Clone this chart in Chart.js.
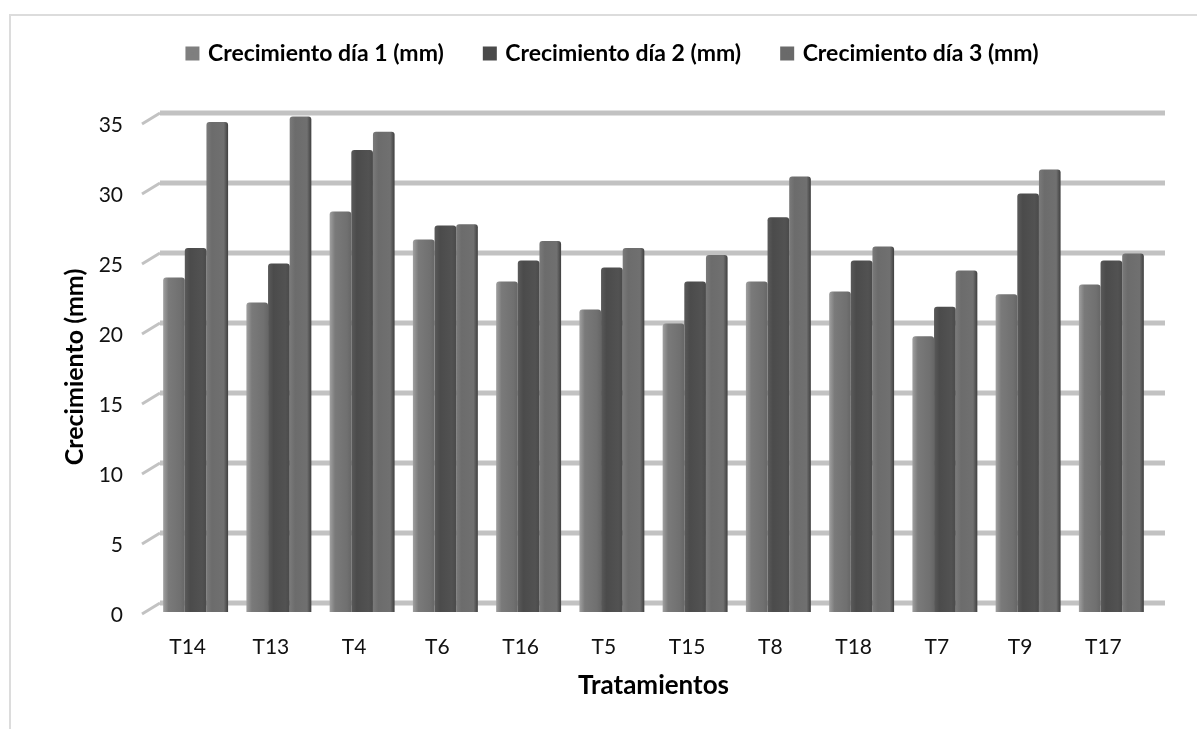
<!DOCTYPE html>
<html>
<head>
<meta charset="utf-8">
<script src="https://cdn.jsdelivr.net/npm/chart.js@4"></script>
<style>
  body { margin: 0; background: #fff; }
  #wrap { position: relative; width: 1197px; height: 729px; overflow: hidden; }
  #frame { position: absolute; left: 9px; top: 14px; width: 1188px; height: 715px;
           border-left: 2px solid #dcdcdc; border-top: 2px solid #dcdcdc; box-sizing: border-box; }
  canvas { position: absolute; left: 0; top: 0; filter: blur(0.6px); }
</style>
</head>
<body>
<div id="wrap">
  <div id="frame"></div>
  <canvas id="chart" width="1197" height="729"></canvas>
</div>
<script>
const categories = ['T14', 'T13', 'T4', 'T6', 'T16', 'T5', 'T15', 'T8', 'T18', 'T7', 'T9', 'T17'];
const dia1 = [23.9, 22.1, 28.6, 26.6, 23.6, 21.6, 20.6, 23.6, 22.9, 19.7, 22.7, 23.4];
const dia2 = [26.0, 24.9, 33.0, 27.6, 25.1, 24.6, 23.6, 28.2, 25.1, 21.8, 29.9, 25.1];
const dia3 = [35.0, 35.4, 34.3, 27.7, 26.5, 26.0, 25.5, 31.1, 26.1, 24.4, 31.6, 25.6];
const seriesNames = ['Crecimiento día 1 (mm)', 'Crecimiento día 2 (mm)', 'Crecimiento día 3 (mm)'];
const seriesValues = [dia1, dia2, dia3];
const legendColors = ['#7f7f7f', '#4a4a4a', '#6a6a6a'];

const catPercent = 0.78;
const font = 'Lato, Carlito, sans-serif';

// shaded like the old 3D excel columns, light left edge and dark side on the right
const shades = [
  ['#a0a0a0', '#7a7a7a', '#707070', '#666666'],
  ['#5a5a5a', '#4b4b4b', '#525252', '#4a4a4a'],
  ['#7a7a7a', '#6c6c6c', '#707070', '#3f3f3f'],
];

function barFill(c) {
  const x = c.chart.scales.x;
  if (!x || c.dataIndex === undefined) return legendColors[c.datasetIndex];
  const pitch = x.getPixelForValue(1) - x.getPixelForValue(0);
  const w = pitch * catPercent / 3;
  const left = x.getPixelForValue(c.dataIndex) + (c.datasetIndex - 1.5) * w;
  const g = c.chart.ctx.createLinearGradient(left, 0, left + w, 0);
  const s = shades[c.datasetIndex];
  g.addColorStop(0, s[0]);
  g.addColorStop(0.25, s[1]);
  g.addColorStop(0.8, s[2]);
  g.addColorStop(1, s[3]);
  return g;
}

// back wall gridlines: Chart.js has no 3D so they get shifted up from the front scale
const backGrid = {
  id: 'backGrid',
  beforeDatasetsDraw(chart) {
    const { ctx, chartArea, scales } = chart;
    ctx.save();
    ctx.strokeStyle = '#c2c2c2';
    scales.y.ticks.forEach(t => {
      const py = scales.y.getPixelForValue(t.value);
      ctx.lineWidth = 5;
      ctx.beginPath();
      ctx.moveTo(chartArea.left + 6, py - 9);
      ctx.lineTo(chartArea.right + 12, py - 9);
      ctx.stroke();
      ctx.lineWidth = 3;
      ctx.beginPath();
      ctx.moveTo(chartArea.left - 12, py + 2);
      ctx.lineTo(chartArea.left + 6, py - 9);
      ctx.stroke();
    });
    ctx.restore();
  },
};

// legend needs a fixed block height, and sits right of the canvas centre in the original
const legendPlace = {
  id: 'legendPlace',
  beforeInit(chart) {
    const fit = chart.legend.fit;
    chart.legend.fit = function () {
      fit.call(this);
      this.height = 122;
    };
  },
  afterLayout(chart) {
    chart.legend.left += 7;
    chart.legend.right += 7;
  },
};

new Chart(document.getElementById('chart'), {
  type: 'bar',
  data: {
    labels: categories,
    datasets: seriesValues.map((v, i) => ({
      label: seriesNames[i],
      data: v,
      backgroundColor: barFill,
      borderRadius: { topLeft: 3, topRight: 3 },
      borderSkipped: 'bottom',
      clip: false,
    })),
  },
  options: {
    responsive: false,
    animation: false,
    layout: { padding: { left: 60, right: 44, top: 0, bottom: 0 } },
    datasets: { bar: { categoryPercentage: catPercent, barPercentage: 1 } },
    plugins: {
      tooltip: { enabled: false },
      legend: {
        position: 'top',
        labels: {
          font: { family: font, size: 23, weight: 'bold' },
          color: '#000',
          boxWidth: 8,
          boxHeight: 8,
          padding: 42,
          generateLabels: chart => seriesNames.map((n, i) => ({
            text: n,
            fillStyle: legendColors[i],
            strokeStyle: legendColors[i],
            lineWidth: 6,
            datasetIndex: i,
          })),
        },
      },
    },
    scales: {
      x: {
        grid: { display: false, drawTicks: false },
        border: { display: false },
        afterFit: s => { s.height = 117; },
        ticks: { font: { family: font, size: 21 }, color: '#111', padding: 23, labelOffset: -8, maxRotation: 0 },
        title: { display: true, text: 'Tratamientos', color: '#000',
                 font: { family: font, size: 26, weight: 'bold' }, padding: { top: 0, bottom: 28 } },
      },
      y: {
        min: 0,
        max: 35,
        grid: { display: false, drawTicks: false },
        border: { display: false },
        afterFit: s => { s.width = 94; },
        ticks: { stepSize: 5, font: { family: font, size: 21 }, color: '#111', padding: 31, labelOffset: 3 },
        title: { display: true, text: 'Crecimiento (mm)', color: '#000',
                 font: { family: font, size: 25, weight: 'bold' }, padding: 0 },
      },
    },
  },
  plugins: [legendPlace, backGrid],
});
</script>
</body>
</html>
